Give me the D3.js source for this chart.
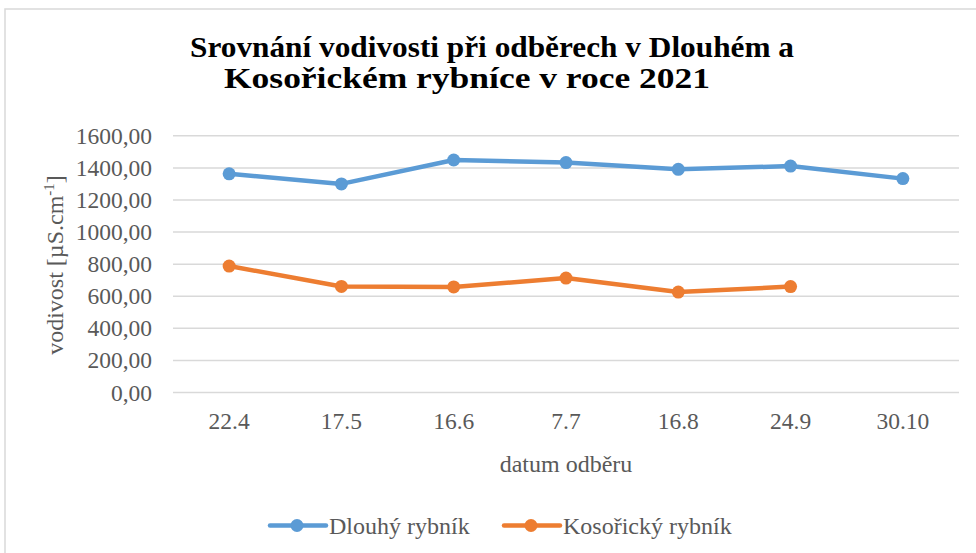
<!DOCTYPE html>
<html><head><meta charset="utf-8">
<script src="https://cdn.jsdelivr.net/npm/d3@7"></script>
<style>
html,body{margin:0;padding:0;background:#fff;overflow:hidden}
text{font-family:"Liberation Serif","Times New Roman",serif}
</style></head>
<body><svg id="c" width="976" height="553"></svg>
<script>
const categories = ["22.4","17.5","16.6","7.7","16.8","24.9","30.10"];
const dlouhy = [1360, 1297, 1446, 1430, 1388, 1408, 1330];
const kosoricky = [785, 658, 655, 710, 623, 657, null];
const yTicks = [0,200,400,600,800,1000,1200,1400,1600];
const seriesNames = ["Dlouhý rybník","Kosořický rybník"];
const colors = ["#5b9bd5","#ed7d31"];
const titleLines = ["Srovnání vodivosti při odběrech v Dlouhém a","Kosořickém rybníce v roce 2021"];

const svg = d3.select("#c");
// outer chart border
svg.append("rect").attr("x",5).attr("y",9).attr("width",1000).attr("height",600)
  .attr("fill","#fff").attr("stroke","#d9d9d9").attr("stroke-width",1.5);

const L=173, R=959, T=135.3, B=392;
const x = d3.scaleBand().domain(categories).range([L,R]);
const y = d3.scaleLinear().domain([0,1600]).range([B,T]);
const fmt = d3.formatLocale({decimal:",",thousands:"",grouping:[3],currency:["",""]}).format(".2f");

// title
const titleX = [190, 224], titleLen = [604, 486];
svg.append("g").selectAll("text").data(titleLines).join("text")
  .attr("x",(d,i)=>titleX[i]).attr("y",(d,i)=>57+i*31)
  .attr("font-size",30).attr("font-weight","bold").attr("fill","#000")
  .attr("textLength",(d,i)=>titleLen[i]).attr("lengthAdjust","spacingAndGlyphs")
  .text(d=>d);

// y axis with gridlines
const ya = svg.append("g").attr("transform",`translate(${L},0)`)
  .call(d3.axisLeft(y).tickValues(yTicks).tickFormat(fmt).tickSize(-(R-L)).tickPadding(21));
ya.select(".domain").remove();
ya.selectAll(".tick line").attr("stroke","#d9d9d9").attr("stroke-width",1.5);
ya.selectAll(".tick text").attr("font-size",23.5).attr("fill","#595959").attr("dy","0.34em");

// x axis
const xa = svg.append("g").attr("transform",`translate(0,${B})`)
  .call(d3.axisBottom(x).tickSize(0).tickPadding(20));
xa.select(".domain").remove();
xa.selectAll(".tick text").attr("font-size",23.5).attr("fill","#595959");

// axis titles
svg.append("text").attr("x",(L+R)/2).attr("y",472).attr("text-anchor","middle")
  .attr("font-size",24).attr("fill","#595959").text("datum odběru");
const yt = svg.append("text").attr("transform",`translate(63,265) rotate(-90)`)
  .attr("text-anchor","middle").attr("font-size",24).attr("fill","#595959");
yt.append("tspan").text("vodivost [µS.cm");
yt.append("tspan").attr("dy",-9).attr("font-size",15).text("-1");
yt.append("tspan").attr("dy",9).text("]");

// series
const all = [dlouhy, kosoricky];
const cx = c => x(c) + x.bandwidth()/2;
all.forEach((vals,si)=>{
  const pts = categories.map((c,i)=>({c, v: vals[i]})).filter(d=>d.v!=null);
  svg.append("path").datum(pts)
    .attr("fill","none").attr("stroke",colors[si]).attr("stroke-width",4.5)
    .attr("stroke-linejoin","round").attr("stroke-linecap","round")
    .attr("d", d3.line().x(d=>cx(d.c)).y(d=>y(d.v)));
  svg.append("g").selectAll("circle").data(pts).join("circle")
    .attr("cx",d=>cx(d.c)).attr("cy",d=>y(d.v)).attr("r",6.5).attr("fill",colors[si]);
});

// legend
const legX = [270, 504];
seriesNames.forEach((n,i)=>{
  const g = svg.append("g").attr("transform",`translate(${legX[i]},525.5)`);
  g.append("line").attr("x1",0).attr("x2",56).attr("stroke",colors[i]).attr("stroke-width",4.5).attr("stroke-linecap","round");
  g.append("circle").attr("cx",27).attr("r",6.5).attr("fill",colors[i]);
  g.append("text").attr("x",59).attr("y",8).attr("font-size",24).attr("fill","#595959").text(n);
});
</script></body></html>
